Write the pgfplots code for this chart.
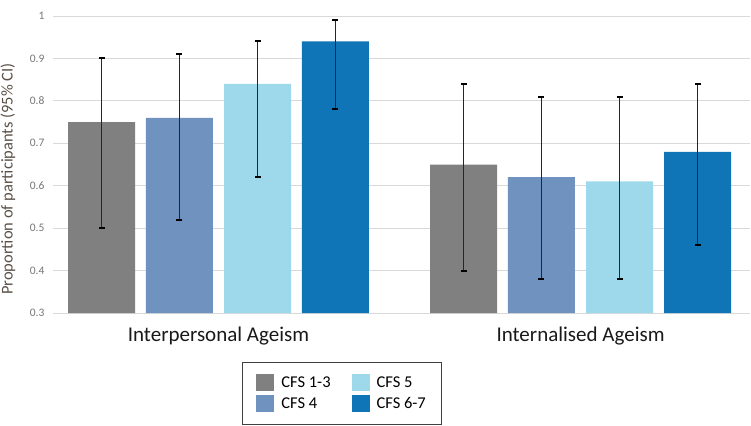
\documentclass[border=0pt]{standalone}
\usepackage{fontspec}
\setmainfont{Carlito}
\usepackage{pgfplots}
\usepackage{pgfplotstable}
\pgfplotsset{compat=1.18}
\definecolor{cA}{HTML}{808080}
\definecolor{cB}{HTML}{7092BF}
\definecolor{cC}{HTML}{9DD9EA}
\definecolor{cD}{HTML}{0F75B7}
\definecolor{tickgray}{HTML}{767676}
\definecolor{labgray}{HTML}{5A5048}
\definecolor{gridgray}{HTML}{D9D9D9}
% x: group centre (0 = Interpersonal, 1 = Internalised) plus bar offset
\pgfplotstableread{
x y ep em
-0.323 0.75 0.15 0.25
0.677 0.65 0.19 0.25
}\cfsA
\pgfplotstableread{
x y ep em
-0.108 0.76 0.15 0.24
0.892 0.62 0.19 0.24
}\cfsB
\pgfplotstableread{
x y ep em
0.108 0.84 0.10 0.22
1.108 0.61 0.20 0.23
}\cfsC
\pgfplotstableread{
x y ep em
0.323 0.94 0.05 0.16
1.323 0.68 0.16 0.22
}\cfsD
\pgfplotsset{
  sq/.style={legend image code/.code={\fill[##1] (0pt,-8.5pt) rectangle (18pt,8.5pt);}},
  eb/.style={error bars/.cd, y dir=both, y explicit,
    error bar style={line width=0.8pt, black!85},
    error mark options={rotate=90, mark size=3pt, line width=2pt, black},
    /pgfplots/.cd},
}
\begin{document}
\begin{tikzpicture}
\path[use as bounding box] (0,0) rectangle (751pt,425pt);
\begin{axis}[
  at={(53pt,112pt)}, anchor=south west,
  scale only axis, width=697pt, height=297pt,
  xmin=-0.457, xmax=1.468, ymin=0.3, ymax=1,
  ytick={0.3,0.4,0.5,0.6,0.7,0.8,0.9,1},
  yticklabels={0.3,0.4,0.5,0.6,0.7,0.8,0.9,1},
  xtick={0,1}, xticklabels={Interpersonal Ageism, Internalised Ageism},
  axis line style={draw=none},
  major tick length=0pt,
  ymajorgrids, grid style={gridgray, line width=0.8pt},
  /pgf/number format/assume math mode=true,
  yticklabel style={font=\fontsize{11.5}{13}\selectfont, text=tickgray, xshift=-5pt},
  xticklabel style={font=\fontsize{21}{24}\selectfont, text=black!90, yshift=-10pt},
  ylabel={Proportion of participants (95\% CI)},
  every axis y label/.style={at={(axis description cs:-0.0646,0.451)}, rotate=90, anchor=center,
    font=\fontsize{16.5}{19}\selectfont, text=labgray},
  legend columns=2, transpose legend,
  legend style={at={(rel axis cs:0.2712,-0.165)}, anchor=north west,
    draw=black!75, line width=0.8pt, font=\fontsize{16.5}{19}\selectfont,
    inner xsep=14pt, inner ysep=12pt, row sep=4pt,
    /tikz/every odd column/.append style={column sep=5pt},
    /tikz/every even column/.append style={column sep=19pt}},
  legend cell align=left,
]
\addplot[ybar, bar width=0.185, fill=cA, draw=none, sq, eb]
  table[x=x, y=y, y error plus=ep, y error minus=em] {\cfsA};
\addlegendentry{CFS 1-3}
\addplot[ybar, bar width=0.185, fill=cB, draw=none, sq, eb]
  table[x=x, y=y, y error plus=ep, y error minus=em] {\cfsB};
\addlegendentry{CFS 4}
\addplot[ybar, bar width=0.185, fill=cC, draw=none, sq, eb]
  table[x=x, y=y, y error plus=ep, y error minus=em] {\cfsC};
\addlegendentry{CFS 5}
\addplot[ybar, bar width=0.185, fill=cD, draw=none, sq, eb]
  table[x=x, y=y, y error plus=ep, y error minus=em] {\cfsD};
\addlegendentry{CFS 6-7}
\end{axis}
\end{tikzpicture}
\end{document}
